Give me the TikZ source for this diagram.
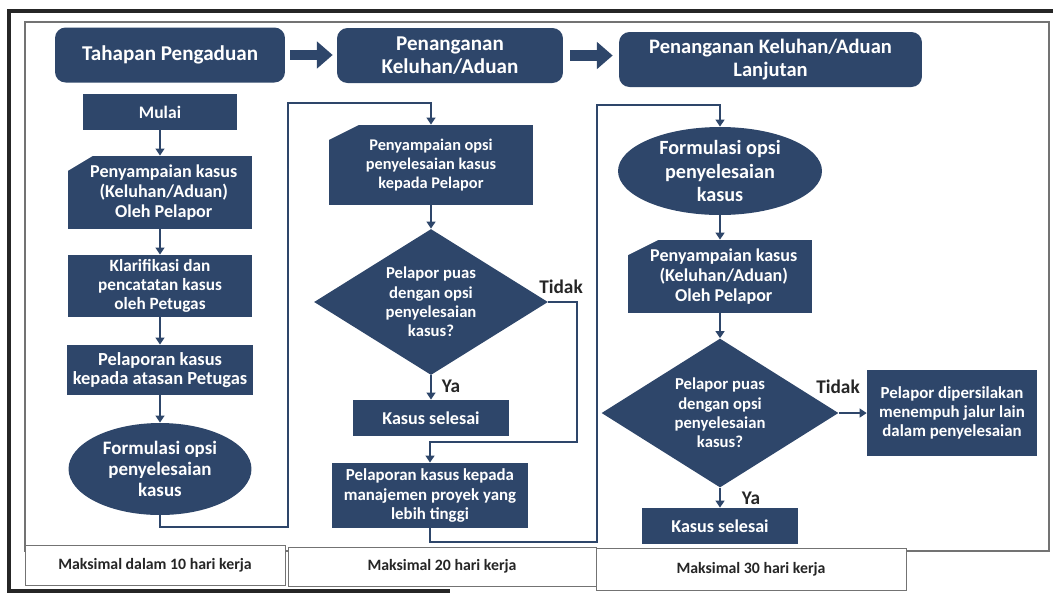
\documentclass[tikz,border=0pt]{standalone}
\usepackage{fontspec}
\setmainfont{Carlito}
\usetikzlibrary{shapes.geometric,arrows.meta}
\definecolor{biru}{RGB}{46,70,106}

\newcommand{\ukuran}[2]{\fontsize{#1}{#2}\selectfont\bfseries}

\tikzset{
  kotak/.style={rectangle, fill=biru, text=white, align=center, inner sep=1pt,
    font=\ukuran{10}{11.5}},
  judul/.style={kotak, rounded corners=6pt, minimum height=1.1cm,
    font=\ukuran{12}{13.5}},
  kartu/.style={kotak, path picture={\fill[white] (path picture bounding box.north west)
    -- ++(#1,0) -- ++(-#1,-0.3cm) -- cycle;}},
  kartu/.default=0.6cm,
  bulat/.style={kotak, ellipse, inner sep=0pt},
  wajik/.style={kotak, diamond, shape aspect=1.6, inner sep=0pt, font=\ukuran{9.5}{11}},
  garis/.style={draw=biru, line width=1.5pt},
  panah/.style={garis, -{Triangle[length=4pt,width=5pt]}},
  blok/.style={draw=biru, line width=6.2pt, -{Triangle[length=9pt,width=15pt]}},
  batas/.style={rectangle, draw=black!55, fill=white, text=black!85,
    font=\ukuran{9}{10}},
  jawab/.style={text=black!85, inner sep=0pt, font=\ukuran{11}{13}}
}

\begin{document}
\begin{tikzpicture}[x=0.02cm,y=-0.02cm]
  \useasboundingbox (0,0) rectangle (1053,593);

  % bingkai
  \draw[black!55, line width=0.6pt] (25,22) rectangle (1049,551);
  \draw[black!85, line width=2.2pt] (1053,11) -- (9,11) -- (9,591) -- (450,591);

  % judul tahapan
  \node[judul, minimum width=4.6cm] (h1) at (170,55) {Tahapan Pengaduan};
  \node[judul, minimum width=4.52cm] (h2) at (450,55.5) {Penanganan\\Keluhan/Aduan};
  \node[judul, minimum width=6.06cm, font=\ukuran{11.7}{13.5}] (h3) at (770.5,59.5) {Penanganan Keluhan/Aduan\\Lanjutan};

  \draw[blok] ([xshift=0.1cm]h1.east) -- ([xshift=-0.08cm]h1.east -| h2.west);
  \draw[blok] ([xshift=0.14cm]h2.east) -- ([xshift=-0.12cm]h2.east -| h3.west);

  % kolom 1
  \node[kotak, minimum width=3.1cm, minimum height=0.72cm] (mulai) at (160,112) {Mulai};
  \node[kartu=0.5cm, minimum width=3.7cm, minimum height=1.46cm, font=\ukuran{10.3}{11.4}] (sampai1) at (160,192.5) {\hspace*{0.15cm}Penyampaian kasus\\\hspace*{0.15cm}(Keluhan/Aduan)\\\hspace*{0.15cm}Oleh Pelapor};
  \node[kotak, minimum width=3.7cm, minimum height=1.24cm, font=\ukuran{9.8}{11}] (klar) at (160,286) {Klarifikasi dan\\pencatatan kasus\\oleh Petugas};
  \node[kotak, minimum width=3.74cm, minimum height=1cm, font=\ukuran{10.5}{11}] (lapor1) at (160,370) {Pelaporan kasus\\kepada atasan Petugas};
  \node[bulat, minimum width=3.66cm, minimum height=1.84cm, font=\ukuran{10.8}{12}] (formulasi1) at (160,469) {Formulasi opsi\\penyelesaian\\kasus};

  \draw[panah] (mulai) -- (sampai1);
  \draw[panah] (sampai1) -- (klar);
  \draw[panah] (klar) -- (lapor1);
  \draw[panah] (lapor1) -- (formulasi1);

  % kolom 2
  \node[kartu, minimum width=4.1cm, minimum height=1.6cm, font=\ukuran{9.3}{10.6}] (sampai2) at (431,165) {Penyampaian opsi\\penyelesaian kasus\\kepada Pelapor};
  \node[wajik, minimum width=4.68cm, minimum height=2.92cm] (puas2) at (431,302) {Pelapor puas\\dengan opsi\\penyelesaian\\kasus?};
  \node[kotak, minimum width=3.12cm, minimum height=0.72cm, font=\ukuran{10.3}{11}] (selesai2) at (431,418) {Kasus selesai};
  \node[kotak, minimum width=3.94cm, minimum height=1.3cm, font=\ukuran{9.6}{11}] (lapor2) at (430,495.5) {Pelaporan kasus kepada\\manajemen proyek yang\\lebih tinggi};

  \coordinate (k1a) at (288,527);
  \coordinate (k1b) at (288,103);
  \draw[panah] (formulasi1.south) |- (k1a) -- (k1b) -| (sampai2.north);

  \coordinate (belok2) at (577,442);
  \draw[panah] (sampai2) -- (puas2);
  \draw[panah] (puas2) -- (selesai2);
  \draw[panah] (puas2.east) -| (belok2) -| (lapor2.north);
  \node[jawab] (tidak2) at (561,287) {Tidak};
  \node[jawab] (ya2) at (451,386) {Ya};

  % kolom 3
  \node[bulat, minimum width=4.08cm, minimum height=1.76cm, font=\ukuran{11.5}{13.2}] (formulasi3) at (720,171) {Formulasi opsi\\penyelesaian\\kasus};
  \node[kartu, minimum width=3.68cm, minimum height=1.46cm, font=\ukuran{10.3}{11.6}] (sampai3) at (720,276.5) {\hspace*{0.15cm}Penyampaian kasus\\\hspace*{0.15cm}(Keluhan/Aduan)\\\hspace*{0.15cm}Oleh Pelapor};
  \node[wajik, minimum width=4.74cm, minimum height=2.98cm] (puas3) at (720,413) {Pelapor puas\\dengan opsi\\penyelesaian\\kasus?};
  \node[kotak, minimum width=3.12cm, minimum height=0.72cm, font=\ukuran{10.3}{11}] (selesai3) at (720,526) {Kasus selesai};
  \node[kotak, minimum width=3.4cm, minimum height=1.72cm, font=\ukuran{9.6}{11}] (jalur) at (952,413) {Pelapor dipersilakan\\menempuh jalur lain\\dalam penyelesaian};

  \coordinate (k2a) at (597,542);
  \coordinate (k2b) at (597,105);
  \draw[panah] (lapor2.south) |- (k2a) -- (k2b) -| (formulasi3.north);

  \draw[panah] (formulasi3) -- (sampai3);
  \draw[panah] (sampai3) -- (puas3);
  \draw[panah] (puas3) -- (selesai3);
  \draw[panah] (puas3.east) -- (jalur.west);
  \node[jawab] (tidak3) at (838,387) {Tidak};
  \node[jawab] (ya3) at (751,498) {Ya};

  % batas waktu
  \node[batas, minimum width=5.2cm, minimum height=0.8cm] (hari10) at (155,565) {Maksimal dalam 10 hari kerja};
  \node[batas, minimum width=6.16cm, minimum height=0.78cm] (hari20) at (442,566.5) {Maksimal 20 hari kerja};
  \node[batas, minimum width=6.2cm, minimum height=0.84cm] (hari30) at (751,569) {Maksimal 30 hari kerja};
\end{tikzpicture}
\end{document}
